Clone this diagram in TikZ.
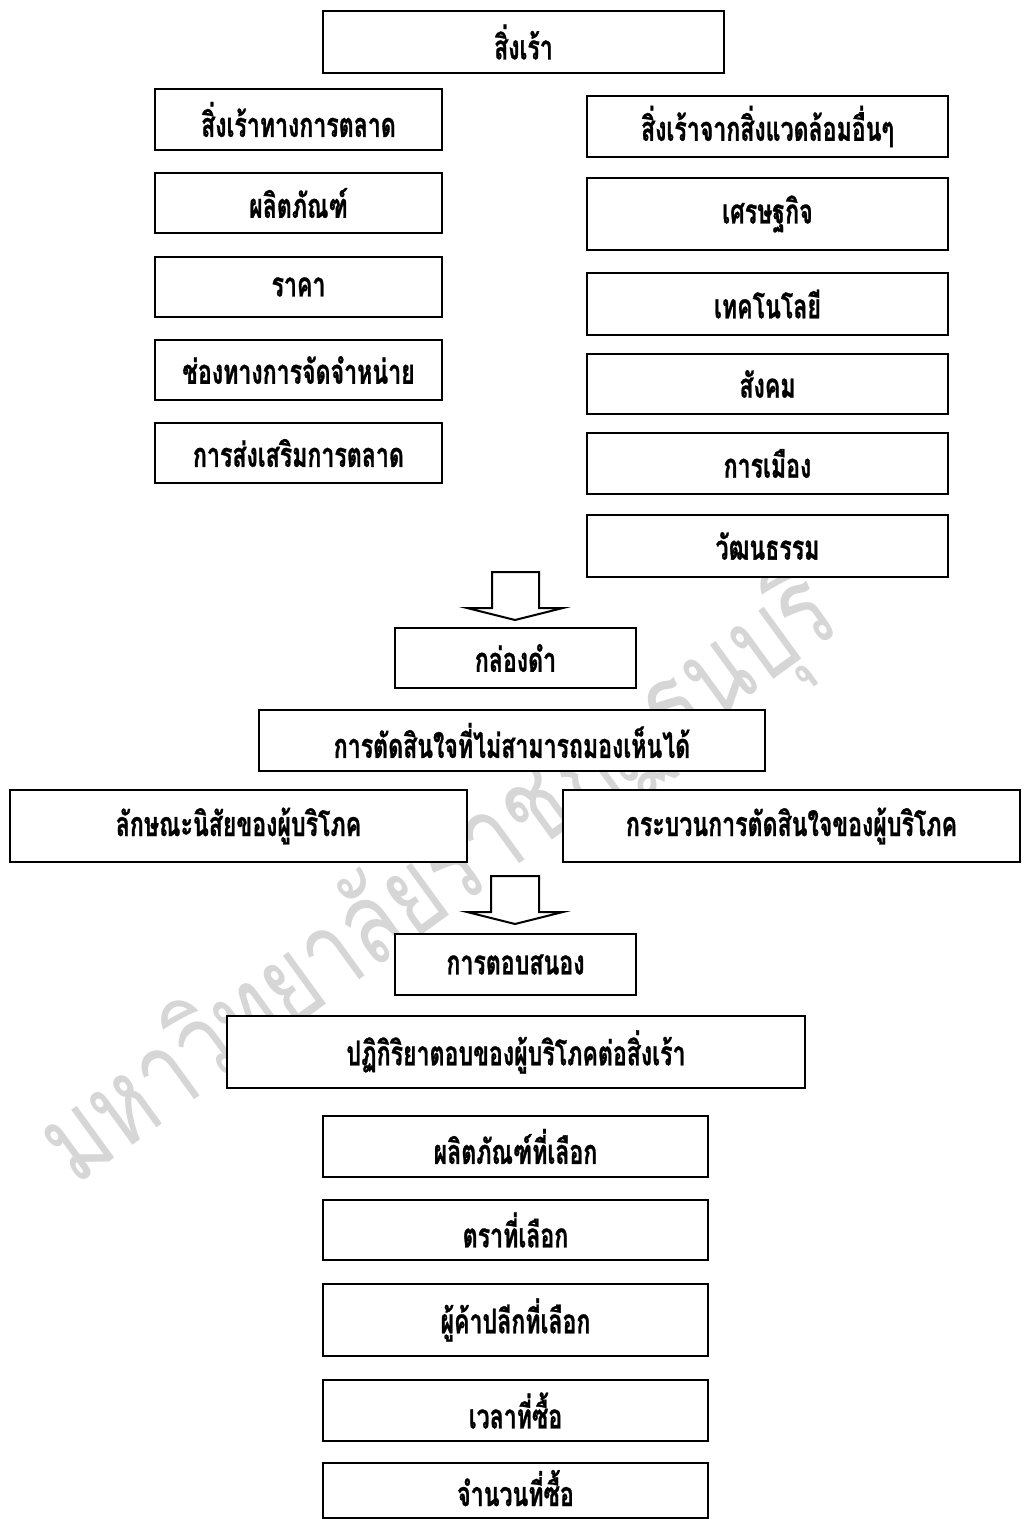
\documentclass[tikz,border=0pt]{standalone}
\usepackage{fontspec}
\newfontfamily\thaib[Script=Thai, FakeStretch=0.68, FakeBold=0.8]{Loma}
\newfontfamily\thaiwm[Script=Thai, FakeStretch=0.75]{Loma}
\begin{document}
\begin{tikzpicture}[x=1pt,y=-1pt,
  box/.style={draw=black, line width=2pt, fill=white, inner sep=0pt,
    font=\thaib\bfseries\fontsize{34}{40}\selectfont, text=black},
  blockarrow/.style={draw=black, line width=2pt, fill=white, line join=miter},
  watermark/.style={text=gray!32, font=\thaiwm\fontsize{115}{115}\selectfont, rotate=36, inner sep=0pt}]
\useasboundingbox (0,0) rectangle (1033,1519);
\fill[white] (0,0) rectangle (1033,1519);
\newcommand\bx[6]{\node[box, minimum width={#4-#2}, minimum height={#5-#3}] (#1) at ({(#2+#4)/2},{(#3+#5)/2}) {#6};}
% watermark
\node[watermark] (wm) at (440,880) {มหาวิทยาลัยราชภัฏธนบุรี};
% top
\bx{s0}{323}{11}{724}{73}{สิ่งเร้า}
% left column
\bx{L1}{155}{89}{442}{150}{สิ่งเร้าทางการตลาด}
\bx{L2}{155}{173}{442}{233}{ผลิตภัณฑ์}
\bx{L3}{155}{257}{442}{317}{ราคา}
\bx{L4}{155}{340}{442}{400}{ช่องทางการจัดจำหน่าย}
\bx{L5}{155}{423}{442}{483}{การส่งเสริมการตลาด}
% right column
\bx{R1}{587}{96}{948}{157}{สิ่งเร้าจากสิ่งแวดล้อมอื่นๆ}
\bx{R2}{587}{178}{948}{250}{เศรษฐกิจ}
\bx{R3}{587}{273}{948}{335}{เทคโนโลยี}
\bx{R4}{587}{354}{948}{414}{สังคม}
\bx{R5}{587}{433}{948}{494}{การเมือง}
\bx{R6}{587}{515}{948}{577}{วัฒนธรรม}
% first block arrow
\draw[blockarrow] (492,572) -- (539,572) -- (539,608) -- (563,608) -- (515,620) -- (467,608) -- (492,608) -- cycle;
\bx{B}{395}{628}{636}{688}{กล่องดำ}
\bx{C}{259}{710}{765}{771}{การตัดสินใจที่ไม่สามารถมองเห็นได้}
\bx{D1}{10}{790}{467}{862}{ลักษณะนิสัยของผู้บริโภค}
\bx{D2}{563}{790}{1020}{862}{กระบวนการตัดสินใจของผู้บริโภค}
% second block arrow
\draw[blockarrow] (491,876) -- (539,876) -- (539,912) -- (563,912) -- (515,924) -- (467,912) -- (491,912) -- cycle;
\bx{E}{395}{934}{636}{995}{การตอบสนอง}
\bx{F}{227}{1016}{805}{1088}{ปฏิกิริยาตอบของผู้บริโภคต่อสิ่งเร้า}
\bx{G1}{323}{1116}{708}{1177}{ผลิตภัณฑ์ที่เลือก}
\bx{G2}{323}{1200}{708}{1260}{ตราที่เลือก}
\bx{G3}{323}{1284}{708}{1356}{ผู้ค้าปลีกที่เลือก}
\bx{G4}{323}{1380}{708}{1441}{เวลาที่ซื้อ}
\node[box, minimum width=385, minimum height=55, text depth=4pt] (G5) at (515.5,1490) {จำนวนที่ซื้อ};
\end{tikzpicture}
\end{document}
